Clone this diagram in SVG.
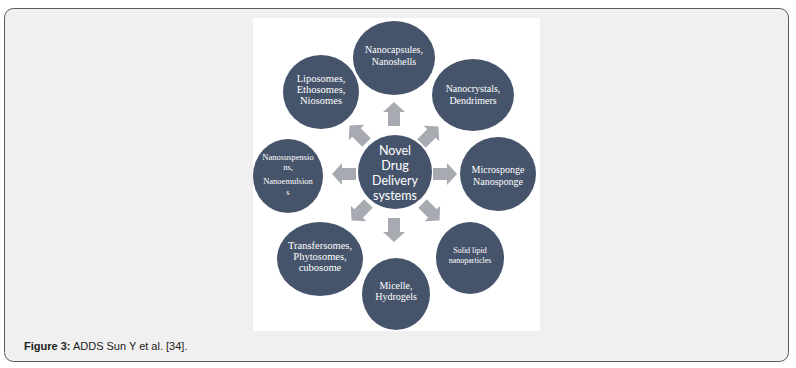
<svg xmlns="http://www.w3.org/2000/svg" width="796" height="368" viewBox="0 0 796 368">
<style>
.node{fill:#46546b}
.t{fill:#ffffff;font-family:"Liberation Serif","Times New Roman",serif;font-size:10px;text-anchor:middle}
.ts{fill:#ffffff;font-family:"Liberation Serif","Times New Roman",serif;font-size:8.5px;text-anchor:middle}
.tc{fill:#ffffff;font-family:Lato,"Open Sans",sans-serif;font-size:12.5px;text-anchor:middle}
.arr{fill:#a7aab0}
.cap{font-family:"Liberation Sans",Arial,sans-serif;font-size:11px;fill:#222}
</style>
<defs>
<path id="arrow" d="M0,-12 L11,-2 L6,-2 L6,12 L-6,12 L-6,-2 L-11,-2 Z"/>
</defs>
<rect x="4.5" y="8.5" width="784" height="353" rx="9" fill="#f0f0f0" stroke="#5a5a5a" stroke-width="1"/>
<rect x="253" y="18" width="287" height="313" fill="#ffffff"/>
<g id="connectors" class="arr">
<use href="#arrow" transform="translate(394,114)"/>
<use href="#arrow" transform="translate(394,230) rotate(180)"/>
<use href="#arrow" transform="translate(344,174) rotate(-90)"/>
<use href="#arrow" transform="translate(445,174) rotate(90)"/>
<use href="#arrow" transform="translate(358,134) rotate(-45)"/>
<use href="#arrow" transform="translate(430,135) rotate(45)"/>
<use href="#arrow" transform="translate(360,212) rotate(-135)"/>
<use href="#arrow" transform="translate(431,212) rotate(135)"/>
</g>
<g id="center">
<ellipse class="node" cx="395" cy="172" rx="37" ry="37"/>
<text class="tc" x="395" y="155">Novel</text>
<text class="tc" x="395" y="170">Drug</text>
<text class="tc" x="395" y="185">Delivery</text>
<text class="tc" x="395" y="200">systems</text>
</g>
<g id="nanocapsules">
<ellipse class="node" cx="394" cy="58" rx="41" ry="37"/>
<text class="t" x="394" y="53">Nanocapsules,</text>
<text class="t" x="394" y="65">Nanoshells</text>
</g>
<g id="liposomes">
<ellipse class="node" cx="321" cy="92" rx="38" ry="37"/>
<text class="t" x="321" y="82" style="font-size:10.5px">Liposomes,</text>
<text class="t" x="321" y="93" style="font-size:10.5px">Ethosomes,</text>
<text class="t" x="321" y="104" style="font-size:10.5px">Niosomes</text>
</g>
<g id="nanocrystals">
<ellipse class="node" cx="473" cy="95" rx="41" ry="36"/>
<text class="t" x="473" y="92">Nanocrystals,</text>
<text class="t" x="473" y="104">Dendrimers</text>
</g>
<g id="nanosuspensions">
<ellipse class="node" cx="288" cy="176" rx="35" ry="37"/>
<text class="ts" x="288" y="160">Nanosuspensio</text>
<text class="ts" x="288" y="170">ns,</text>
<text class="ts" x="288" y="184">Nanoemulsion</text>
<text class="ts" x="288" y="195">s</text>
</g>
<g id="microsponge">
<ellipse class="node" cx="498" cy="174" rx="38" ry="37"/>
<text class="t" x="498" y="173">Microsponge</text>
<text class="t" x="498" y="185">Nanosponge</text>
</g>
<g id="transfersomes">
<ellipse class="node" cx="320" cy="259" rx="43" ry="37"/>
<text class="t" x="320" y="249" style="font-size:10.5px">Transfersomes,</text>
<text class="t" x="320" y="260" style="font-size:10.5px">Phytosomes,</text>
<text class="t" x="320" y="271" style="font-size:10.5px">cubosome</text>
</g>
<g id="micelle">
<ellipse class="node" cx="396" cy="294" rx="34" ry="36"/>
<text class="t" x="396" y="289">Micelle,</text>
<text class="t" x="396" y="300">Hydrogels</text>
</g>
<g id="solidlipid">
<ellipse class="node" cx="470" cy="258" rx="34" ry="36"/>
<text class="ts" x="470" y="253" style="font-size:8px">Solid lipid</text>
<text class="ts" x="470" y="263" style="font-size:8px">nanoparticles</text>
</g>
<text class="cap" x="24" y="350"><tspan font-weight="bold">Figure 3:</tspan> ADDS Sun Y et al. [34].</text>
</svg>
